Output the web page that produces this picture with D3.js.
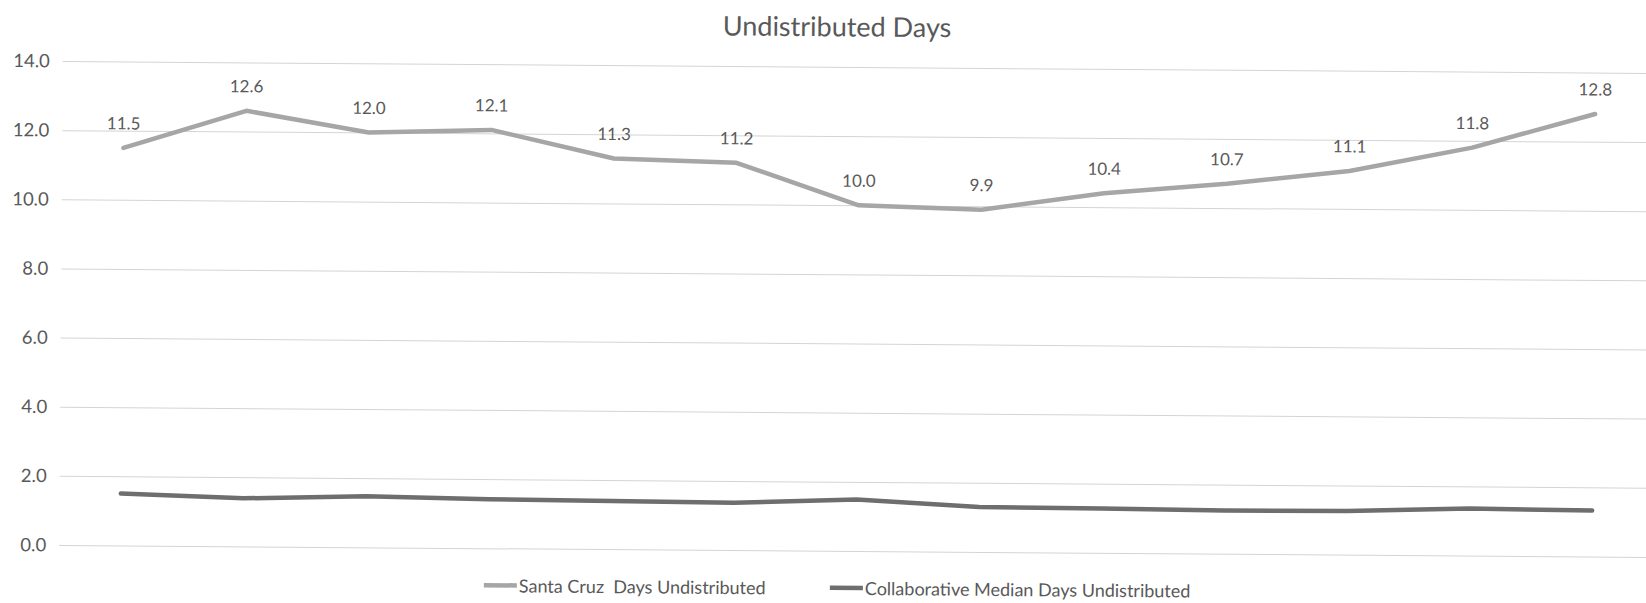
<!DOCTYPE html>
<html>
<head>
<meta charset="utf-8">
<script src="https://cdn.jsdelivr.net/npm/d3@7"></script>
<style>
  html, body { margin: 0; padding: 0; background: #ffffff; }
  svg { display: block; }
  text { font-family: Lato, "Open Sans", sans-serif; fill: #595959; white-space: pre; }
</style>
</head>
<body>
<svg id="chart" width="1646" height="603"></svg>
<script>
// Monthly periods (13 points along the x axis, no axis labels shown)
const periods = ["P1", "P2", "P3", "P4", "P5", "P6", "P7", "P8", "P9", "P10", "P11", "P12", "P13"];

// Santa Cruz days undistributed (labelled values)
const santaCruz = [11.5, 12.6, 12.0, 12.1, 11.3, 11.2, 10.0, 9.9, 10.4, 10.7, 11.1, 11.8, 12.8];

// Collaborative median days undistributed
const collabMedian = [1.50, 1.39, 1.48, 1.42, 1.39, 1.37, 1.49, 1.30, 1.28, 1.25, 1.26, 1.36, 1.33];

const yTicks = [0, 2, 4, 6, 8, 10, 12, 14];

const seriesNames = ["Santa Cruz  Days Undistributed", "Collaborative Median Days Undistributed"];
const seriesColors = ["#a6a6a6", "#6e6e6e"];

const svg = d3.select("#chart");

// The printed chart sits at a slight angle on the page
const root = svg.append("g").attr("transform", "rotate(0.43, 60, 300)");

const x = d3.scalePoint().domain(periods).range([61, 1655]).padding(0.5);
const y = d3.scaleLinear().domain([0, 14]).range([545, 61]);

// Horizontal gridlines with value labels
const yAxis = d3.axisLeft(y)
  .tickValues(yTicks)
  .tickFormat(d3.format(".1f"))
  .tickSize(-(1655 - 61))
  .tickPadding(13);

const gy = root.append("g")
  .attr("transform", "translate(61,0)")
  .call(yAxis);
gy.select(".domain").remove();
gy.selectAll(".tick line").attr("stroke", "#d4d4d4").attr("stroke-width", 1);
gy.selectAll(".tick text")
  .attr("fill", "#595959")
  .style("font-size", "18.5px")
  .style("font-family", "Lato, 'Open Sans', sans-serif");

// Title
root.append("text")
  .attr("x", 835)
  .attr("y", 20)
  .attr("text-anchor", "middle")
  .attr("dominant-baseline", "central")
  .style("font-size", "27px")
  .text("Undistributed Days");

const line = d3.line()
  .x((d, i) => x(periods[i]))
  .y(d => y(d));

root.append("path")
  .datum(collabMedian)
  .attr("d", line)
  .attr("fill", "none")
  .attr("stroke", seriesColors[1])
  .attr("stroke-width", 4.5)
  .attr("stroke-linejoin", "round")
  .attr("stroke-linecap", "round");

root.append("path")
  .datum(santaCruz)
  .attr("d", line)
  .attr("fill", "none")
  .attr("stroke", seriesColors[0])
  .attr("stroke-width", 4.5)
  .attr("stroke-linejoin", "round")
  .attr("stroke-linecap", "round");

// Value labels above the Santa Cruz line
root.append("g")
  .selectAll("text")
  .data(santaCruz)
  .join("text")
  .attr("x", (d, i) => x(periods[i]))
  .attr("y", d => y(d) - 25)
  .attr("text-anchor", "middle")
  .attr("dominant-baseline", "central")
  .style("font-size", "17px")
  .text(d => d3.format(".1f")(d));

// Legend
const legendItems = [
  { name: seriesNames[0], color: seriesColors[0], x: 486 },
  { name: seriesNames[1], color: seriesColors[1], x: 832 }
];
const legend = root.append("g");
const li = legend.selectAll("g").data(legendItems).join("g")
  .attr("transform", d => `translate(${d.x},582)`);
li.append("line")
  .attr("x1", 0).attr("x2", 33)
  .attr("y1", 0).attr("y2", 0)
  .attr("stroke", d => d.color)
  .attr("stroke-width", 4.5);
li.append("text")
  .attr("x", 35)
  .attr("y", 0)
  .attr("dominant-baseline", "central")
  .style("font-size", "18px")
  .text(d => d.name);
</script>
</body>
</html>
